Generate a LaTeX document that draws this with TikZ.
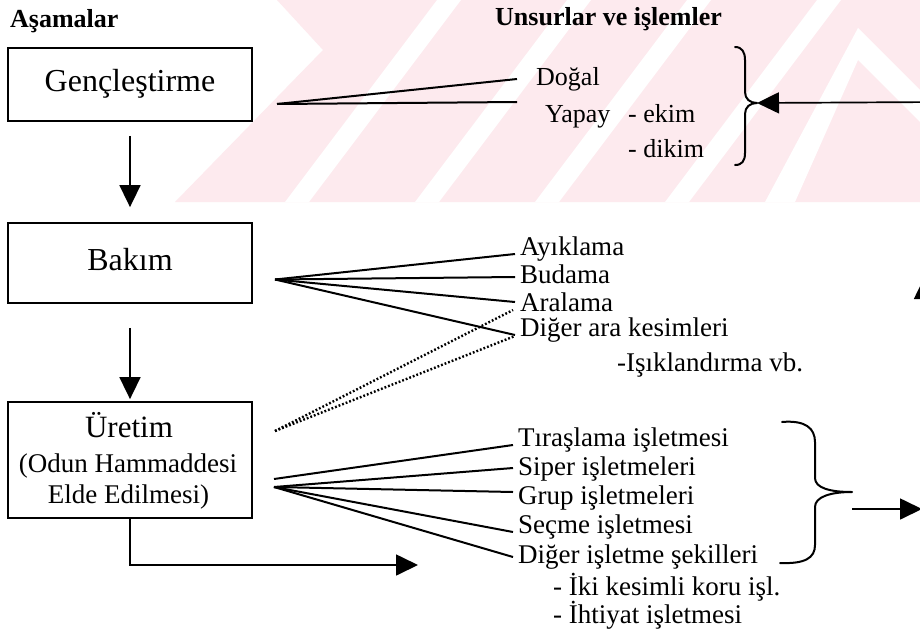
\documentclass[tikz,border=0pt]{standalone}
\usepackage{fontspec}
\setmainfont{Liberation Serif}
\usetikzlibrary{arrows.meta,calc}
\definecolor{wmpink}{RGB}{253,234,238}
\tikzset{
  stagebox/.style={draw, line width=1.8pt, fill=white, inner sep=0pt, minimum width=244pt},
  boxtitle/.style={font=\fontsize{32}{32}\selectfont, text height=22pt, text depth=8pt},
  boxline/.style={inner sep=0pt, anchor=base},
  lst/.style={font=\fontsize{27}{27}\selectfont, inner sep=0pt, anchor=base west},
  toptext/.style={font=\fontsize{26}{26}\selectfont, inner sep=0pt, anchor=base west},
  hdr/.style={font=\bfseries\fontsize{26}{26}\selectfont, inner sep=0pt, anchor=base west},
  fanline/.style={line width=2pt},
  dotline/.style={line width=2.4pt, dash pattern=on 1.8pt off 2pt},
  arr/.style={line width=1.7pt, -{Triangle[length=22pt,width=21pt]}},
  bracepath/.style={line width=2pt, line cap=round, line join=round},
}
\begin{document}
\begin{tikzpicture}[x=1pt,y=-1pt]
\useasboundingbox (0,0) rectangle (920,632);
\fill[white] (0,0) rectangle (920,632);
% watermark
\fill[wmpink] (175,202) -- (323,50) -- (277,0) -- (920,0) -- (920,202) -- cycle;
\foreach \b in {285,415,535,665} {
  \fill[white] (\b,202) -- (\b+24,202) -- (\b+24+152,0) -- (\b+152,0) -- cycle;
}
\fill[white] (858,28) -- (920,90) -- (920,122) -- (858,60) -- (795,202) -- (765,202) -- cycle;

% headers
\node[hdr] (h1) at (10,27) {Aşamalar};
\node[hdr] (h2) at (495,25) {Unsurlar ve işlemler};

% stage boxes
\node[stagebox, minimum height=73pt, boxtitle] (g) at (130,84.5) {Gençleştirme};
\node[stagebox, minimum height=80pt, boxtitle] (b) at (130,263) {Bakım};
\node[stagebox, minimum height=116pt] (u) at (130,460) {};
\node[boxline, font=\fontsize{31}{31}\selectfont] (u1) at (129,437) {Üretim};
\node[boxline, font=\fontsize{27}{27}\selectfont] (u2) at (128,472) {(Odun Hammaddesi};
\node[boxline, font=\fontsize{27}{27}\selectfont] (u3) at (128.5,503) {Elde Edilmesi)};

% stage arrows
\draw[arr, shorten <=14pt, shorten >=15pt] (g.south) -- (b.north);
\draw[arr, shorten <=24pt, shorten >=2pt] (b.south) -- (u.north);
\coordinate (uend) at (418,565);
\draw[arr] (u.south) |- (uend);

% Gençleştirme items
\coordinate (gapex) at (277,104);
\node[toptext] (dogal) at (536,85) {Doğal};
\node[toptext] (yapay) at (545,122) {Yapay};
\node[toptext] (ekim) at (628,122) {- ekim};
\node[toptext] (dikim) at (628,157) {- dikim};
\draw[fanline] (gapex) -- ($(dogal.base west)+(-19,-6)$);
\draw[fanline] (gapex) -- ($(yapay.base west)+(-28,-20)$);

% brace 1 and incoming arrow
\draw[bracepath] (735,47) .. controls (742,47) and (745,52) .. (745,60) -- (745,92)
  .. controls (745,99) and (750,103) .. (757,103)
  .. controls (750,103) and (745,107) .. (745,114) -- (745,153)
  .. controls (745,161) and (742,165) .. (735,165);
\coordinate (br1) at (757,103);
\coordinate (rin) at (940,102);
\draw[arr] (rin) -- (br1);

% Bakım items
\coordinate (bapex) at (275,279.5);
\node[lst] (ayik) at (520,255) {Ayıklama};
\node[lst] (buda) at (520,283) {Budama};
\node[lst] (aral) at (520,311) {Aralama};
\node[lst] (dig1) at (520,336) {Diğer ara kesimleri};
\node[lst] (isik) at (617,371) {-Işıklandırma vb.};
\draw[fanline] (bapex) -- ($(ayik.base west)+(-5,-1)$);
\draw[fanline] (bapex) -- ($(buda.base west)+(-5,-6)$);
\draw[fanline] (bapex) -- ($(aral.base west)+(-5,-9)$);
\draw[fanline] (bapex) -- ($(dig1.base west)+(-5,-1)$);

% dotted links from Üretim
\coordinate (dapex) at (275,431);
\draw[dotline] (dapex) -- ($(aral.base west)+(-7,-1)$);
\draw[dotline] (dapex) -- ($(dig1.base west)+(-5,0)$);

% partial upward arrow at right edge
\coordinate (upS) at (924.5,340);
\coordinate (upE) at (924.5,277);
\draw[arr] (upS) -- (upE);

% Üretim items
\coordinate (uapex) at (274,487);
\coordinate (uapexT) at (274,479);
\node[lst] (tiras) at (518,446) {Tıraşlama işletmesi};
\node[lst] (siper) at (518,475) {Siper işletmeleri};
\node[lst] (grup) at (518,504) {Grup işletmeleri};
\node[lst] (secme) at (518,533) {Seçme işletmesi};
\node[lst] (dig2) at (518,563) {Diğer işletme şekilleri};
\node[lst] (iki) at (553,595) {- İki kesimli koru işl.};
\node[lst] (ihti) at (553,623) {- İhtiyat işletmesi};
\draw[fanline] (uapexT) -- ($(tiras.base west)+(-5,-1)$);
\draw[fanline] (uapex) -- ($(siper.base west)+(-5,-7)$);
\draw[fanline] (uapex) -- ($(grup.base west)+(-5,-12)$);
\draw[fanline] (uapex) -- ($(secme.base west)+(-5,-1)$);
\draw[fanline] (uapex) -- ($(dig2.base west)+(-5,-6)$);

% brace 2 and outgoing arrow
\draw[bracepath] (782,422) .. controls (805,420) and (815,428) .. (815,442) -- (815,478)
  .. controls (815,488) and (830,492) .. (852,492)
  .. controls (830,492) and (815,497) .. (815,507) -- (815,545)
  .. controls (815,558) and (805,564) .. (780,563);
\coordinate (b2out) at (852,509);
\coordinate (b2end) at (922,509);
\draw[arr] (b2out) -- (b2end);
\end{tikzpicture}
\end{document}
